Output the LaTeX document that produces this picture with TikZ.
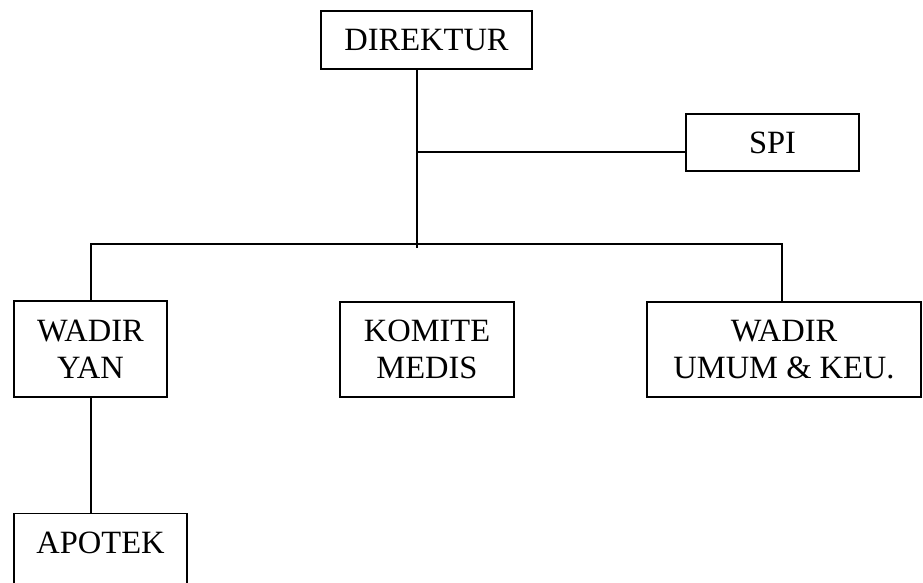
\documentclass[tikz,border=0pt]{standalone}
\usepackage{fontspec}
\setmainfont{Liberation Serif}
\begin{document}
\begin{tikzpicture}[x=1pt,y=-1pt,
  orgbox/.style={draw,line width=1.4pt,inner sep=0pt,align=center,
    font=\fontsize{32.5}{37}\selectfont},
  link/.style={line width=1.4pt}]
\clip (0,0) rectangle (923,582);
\fill[white] (0,0) rectangle (923,582);
\node[orgbox,minimum width=211,minimum height=58] (direktur) at (426.5,40) {DIREKTUR};
\node[orgbox,minimum width=173,minimum height=57] (spi) at (772.5,142.5) {SPI};
\node[orgbox,minimum width=153,minimum height=96] (yan) at (90.5,349) {WADIR\\YAN};
\node[orgbox,minimum width=174,minimum height=95] (komite) at (427,349.5) {KOMITE\\MEDIS};
\node[orgbox,minimum width=274,minimum height=95] (umum) at (784,349.5) {WADIR\\UMUM \& KEU.};
\node[orgbox,anchor=north,minimum width=173,text height=21pt,text depth=50pt,inner ysep=19pt] (apotek) at (100.5,513) {APOTEK};
\coordinate (trunkend) at (417,248);
\coordinate (spij) at (417,152);
\coordinate (barL) at (91,244);
\coordinate (barR) at (782,244);
\draw[link] (direktur.south -| trunkend) -- (trunkend);
\draw[link] (spij) -- (spij -| spi.west);
\draw[link] (yan.north -| barL) -- (barL) -- (barR) -- (umum.north -| barR);
\draw[link] (yan.south -| barL) -- (apotek.north -| barL);
\end{tikzpicture}
\end{document}
